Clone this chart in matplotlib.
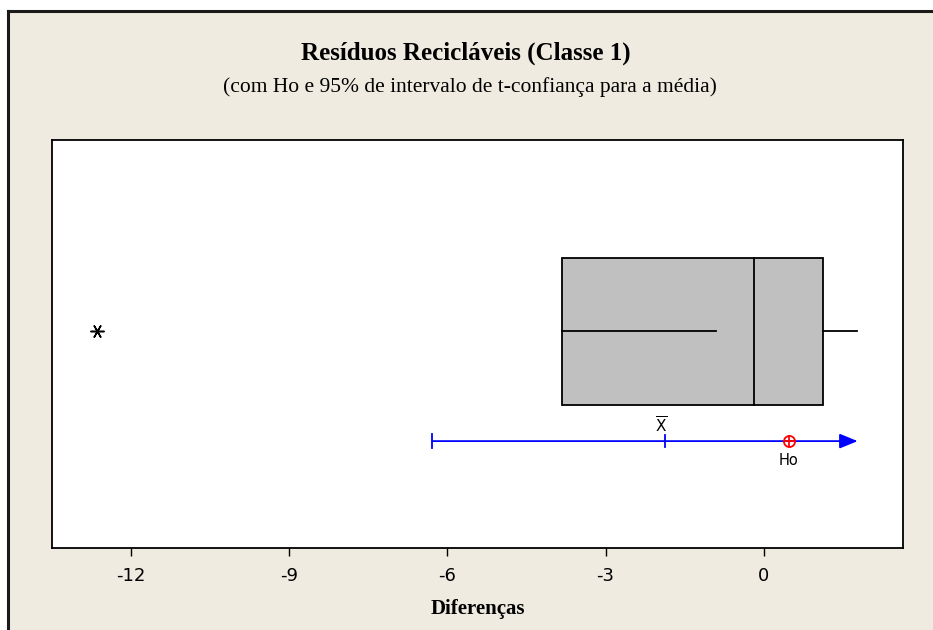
import numpy as np
import matplotlib.pyplot as plt
from matplotlib.lines import Line2D

# boxplot summary (Diferencas)
q1 = -3.83
median = -0.19
q3 = 1.12
upper_whisker = 1.76
inner_line_end = -0.91
outliers = [-12.64]

# 95% t-confidence interval for the mean, and Ho
ci_low = -6.29
mean = -1.88
ci_high = 1.76
ho = 0.47

xticks = [-12, -9, -6, -3, 0]

W, H = 933, 630
fig = plt.figure(figsize=(W / 100, H / 100), dpi=100)
fig.patch.set_facecolor('white')

beige = '#EFEBE1'
# beige panel with black frame on top and left
fig.patches.append(plt.Rectangle((8 / W, 0), 1, 1 - 11 / H, transform=fig.transFigure,
                                 facecolor=beige, edgecolor='none', zorder=-10))
fig.lines.append(Line2D([8 / W, 1], [1 - 11 / H, 1 - 11 / H], transform=fig.transFigure,
                        color='#1a1a1a', lw=2.2, zorder=-5))
fig.lines.append(Line2D([8 / W, 8 / W], [0, 1 - 11 / H], transform=fig.transFigure,
                        color='#1a1a1a', lw=2.2, zorder=-5))

ax = fig.add_axes([52 / W, 1 - 548 / H, (903 - 52) / W, (548 - 140) / H], zorder=1)
ax.set_facecolor('white')
ax.set_xlim(-13.5, 2.64)
ax.set_ylim(0, 1)

yc = 0.531
hh = 0.18
# box
ax.add_patch(plt.Rectangle((q1, yc - hh), q3 - q1, 2 * hh, facecolor='#C0C0C0',
                           edgecolor='black', lw=1.3, zorder=2))
ax.plot([median, median], [yc - hh, yc + hh], color='black', lw=1.3, zorder=3)
ax.plot([q3, upper_whisker], [yc, yc], color='black', lw=1.3, zorder=3)
ax.plot([q1, inner_line_end], [yc, yc], color='black', lw=1.3, zorder=3)
ax.plot(outliers, [yc] * len(outliers), marker=(6, 2, 90), ms=10, color='black',
        mew=1.1, ls='none', zorder=3)

# confidence interval
yci = 0.262
ax.annotate('', xy=(ci_high + 0.02, yci), xytext=(ci_low, yci),
            arrowprops=dict(arrowstyle='-|>,head_length=1.1,head_width=0.45',
                            color='blue', lw=1.3, shrinkA=0, shrinkB=0), zorder=3)
ax.plot([ci_low, ci_low], [yci - 0.017, yci + 0.017], color='blue', lw=1.3, zorder=3)
ax.plot([mean, mean], [yci - 0.015, yci + 0.015], color='blue', lw=1.3, zorder=3)
ax.plot([ho], [yci], marker='o', ms=8, mfc='none', mec='red', mew=1.3, zorder=4)
ax.plot([ho], [yci], marker='+', ms=8, color='red', mew=1.3, zorder=4)
ax.text(mean - 0.07, yci + 0.012, r'$\overline{\mathrm{X}}$', ha='center', va='bottom',
        fontsize=11, family='DejaVu Sans')
ax.text(ho, yci - 0.03, 'Ho', ha='center', va='top', fontsize=10.5,
        family='DejaVu Sans')

ax.set_yticks([])
ax.set_xticks(xticks)
ax.set_xticklabels([str(t) for t in xticks], fontsize=13, family='DejaVu Sans')
ax.tick_params(axis='x', direction='out', length=6, width=1, pad=8)
for s in ax.spines.values():
    s.set_linewidth(1.3)

ax.set_xlabel('Diferenças', fontsize=15, fontweight='bold', family='Liberation Serif',
              labelpad=10)
fig.text(466 / W, 1 - 53 / H, 'Resíduos Recicláveis (Classe 1)', ha='center', va='center',
         fontsize=18, fontweight='bold', family='Liberation Serif')
fig.text(470 / W, 1 - 87 / H, '(com Ho e 95% de intervalo de t-confiança para a média)',
         ha='center', va='center', fontsize=15.5, family='Liberation Serif')

fig.savefig('out.png', dpi=100, facecolor=fig.get_facecolor())
